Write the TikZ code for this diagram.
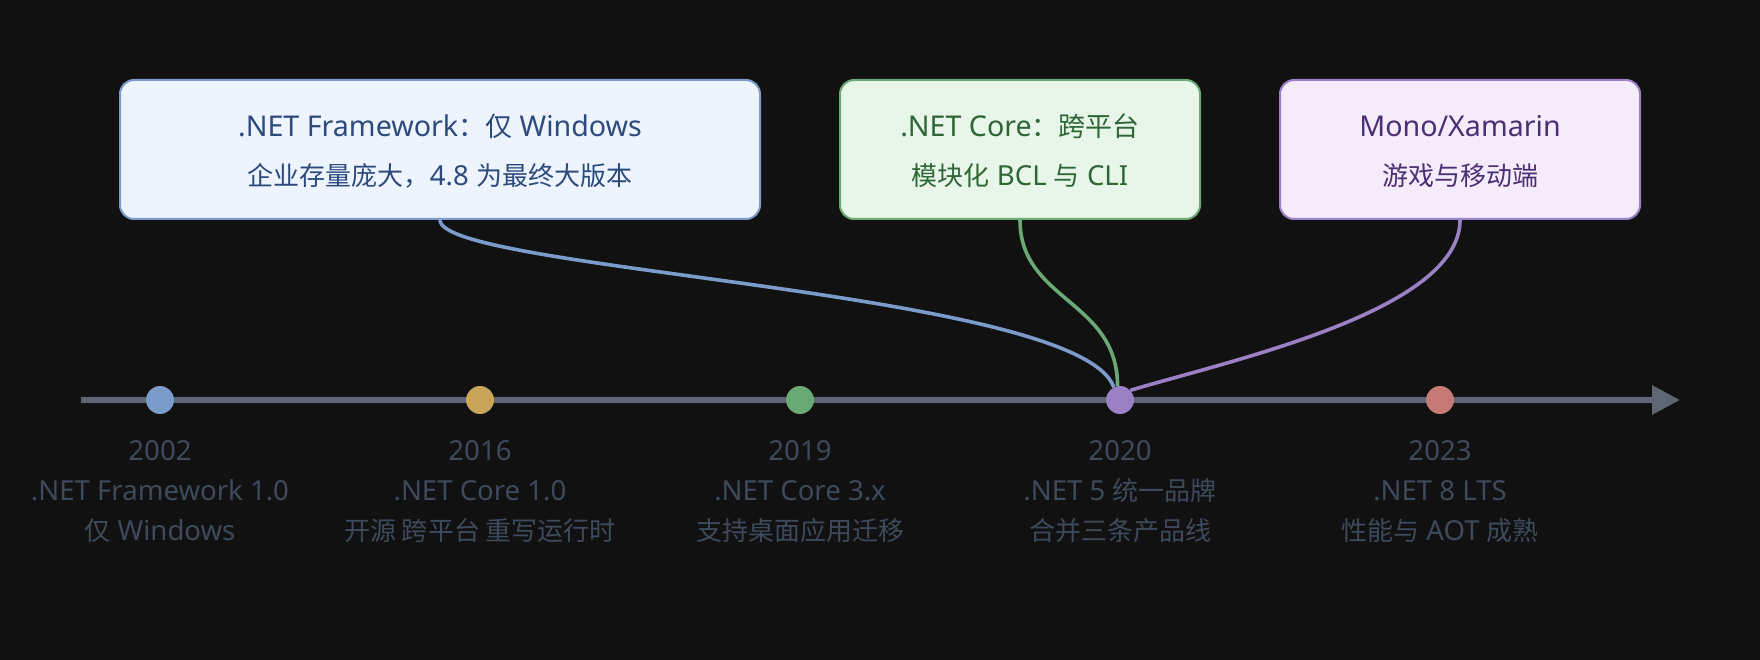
\documentclass[tikz,border=0pt]{standalone}
\usepackage{fontspec}
\setmainfont{Noto Sans}[Scale=1.06]
\newfontfamily\cjk{Noto Sans CJK SC}
\newcommand\zh[1]{{\cjk #1}}
\usetikzlibrary{%
    arrows.meta,
    calc,
    positioning
}
\definecolor{bgdark}{HTML}{111111}
\definecolor{axisgray}{HTML}{5E6673}
\definecolor{labelgray}{HTML}{3D4A5C}
\definecolor{dotblue}{HTML}{7B9BCB}
\definecolor{dotgold}{HTML}{C9A55A}
\definecolor{dotgreen}{HTML}{6AA874}
\definecolor{dotpurple}{HTML}{9B80C6}
\definecolor{dotred}{HTML}{C47A77}
\definecolor{fillblue}{HTML}{EEF4FD}
\definecolor{fillgreen}{HTML}{E8F6EA}
\definecolor{fillpurple}{HTML}{F4ECFA}
\definecolor{textblue}{HTML}{2C4A7C}
\definecolor{textgreen}{HTML}{2E6636}
\definecolor{textpurple}{HTML}{4B2E73}
\tikzset{
    axisline/.style = {line width=6pt, draw=axisgray, -{Triangle[length=28pt,width=28pt]}},
    eventdot/.style = {circle, inner sep=0pt, minimum size=28pt},
    yearlabel/.style = {align=center, text=labelgray, inner sep=0pt,
        font=\fontsize{26}{40}\selectfont},
    infobox/.style = {rounded corners=14pt, line width=2pt, inner sep=0pt,
        minimum height=139pt},
    boxtitle/.style = {inner sep=0pt, anchor=base, font=\fontsize{27}{34}\selectfont},
    boxsub/.style = {inner sep=0pt, anchor=base, font=\fontsize{26}{32}\selectfont},
    linkcurve/.style = {line width=3.6pt}
}

\begin{document}
\begin{tikzpicture}[x=1pt,y=-1pt]
    \useasboundingbox[fill=bgdark] (0,0) rectangle (1760,660);

    \coordinate (axis-start) at (81,400);
    \coordinate (axis-end) at (1680,400);
    \draw[axisline] (axis-start) -- (axis-end);

    \foreach \yr/\col/\lineA/\lineB [count=\i] in {%
        2002/dotblue/{.NET Framework 1.0}/{\zh{仅} Windows},
        2016/dotgold/{.NET Core 1.0}/{\zh{开源 跨平台 重写运行时}},
        2019/dotgreen/{.NET Core 3.x}/{\zh{支持桌面应用迁移}},
        2020/dotpurple/{.NET 5 \zh{统一品牌}}/{\zh{合并三条产品线}},
        2023/dotred/{.NET 8 LTS}/{\zh{性能与} AOT \zh{成熟}}%
        }
        {
        \node[eventdot, fill=\col] (d-\yr) at ({160+320*(\i-1)},400) {};
        \node[yearlabel, anchor=base] (l-\yr) at ({160+320*(\i-1)},540) {\yr\\\lineA\\\lineB};
        }

    \node[infobox, draw=dotblue, fill=fillblue, minimum width=640pt] (fw) at (440,149.5) {};
    \node[infobox, draw=dotgreen, fill=fillgreen, minimum width=360pt] (core) at (1020,149.5) {};
    \node[infobox, draw=dotpurple, fill=fillpurple, minimum width=360pt] (mono) at (1460,149.5) {};

    \node[boxtitle, text=textblue] (fw-title) at (440,137) {.NET Framework\zh{：仅} Windows};
    \node[boxsub, text=textblue] (fw-sub) at (440,186) {\zh{企业存量庞大，}4.8 \zh{为最终大版本}};
    \node[boxtitle, text=textgreen] (core-title) at (1020,137) {.NET Core\zh{：跨平台}};
    \node[boxsub, text=textgreen] (core-sub) at (1020,186) {\zh{模块化} BCL \zh{与} CLI};
    \node[boxtitle, text=textpurple] (mono-title) at (1460,137) {Mono/Xamarin};
    \node[boxsub, text=textpurple] (mono-sub) at (1460,186) {\zh{游戏与移动端}};

    \draw[linkcurve, draw=dotblue] (fw.south) .. controls +(0,51) and +(-34,-97) .. (d-2020.116);
    \draw[linkcurve, draw=dotgreen] (core.south) .. controls +(0,81) and +(0,-86) .. (d-2020.100);
    \draw[linkcurve, draw=dotpurple] (mono.south) .. controls +(0,91) and +(100,-30) .. (d-2020.43);
\end{tikzpicture}
\end{document}
